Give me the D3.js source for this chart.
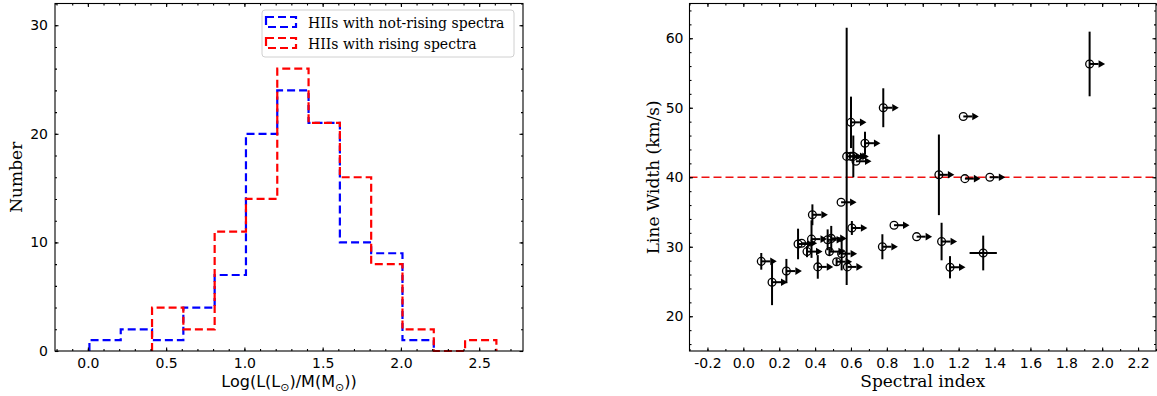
<!DOCTYPE html>
<html lang="en">
<head>
<meta charset="UTF-8">
<title>HII regions: L/M histogram and line width vs spectral index</title>
<script src="https://d3js.org/d3.v7.min.js"></script>
<style>
  body { margin: 0; background: #fff; }
  .tick text { font-family: "DejaVu Sans", sans-serif; font-size: 14px; fill: #000; }
  .tick line { stroke: #000; stroke-width: 1.1; }
  .label { font-family: "DejaVu Serif", serif; font-size: 17px; fill: #000; }
</style>
</head>
<body>
<svg id="chart" width="1157" height="396"></svg>
<script>
  // ---- left panel: histogram of Log(L/M) ----
  const binEdges = [0.01, 0.21, 0.41, 0.61, 0.81, 1.01, 1.21, 1.41, 1.61, 1.81, 2.01, 2.21, 2.41, 2.61];
  const notRisingCounts = [1, 2, 1, 4, 7, 20, 24, 21, 10, 9, 1, 0, 0];
  const risingCounts = [0, 0, 4, 2, 11, 14, 26, 21, 16, 8, 2, 0, 1];
  const histXTicks = [0, 0.5, 1.0, 1.5, 2.0, 2.5];
  const histYTicks = [0, 10, 20, 30];
  const legendLabels = ["HIIs with not-rising spectra", "HIIs with rising spectra"];

  // ---- right panel: line width vs spectral index ----
  const specIndex = [0.10, 0.16, 0.24, 0.305, 0.325, 0.355, 0.38, 0.385, 0.415, 0.47, 0.49, 0.48,
                     0.52, 0.548, 0.545, 0.58, 0.605, 0.576, 0.60, 0.613, 0.628, 0.60, 0.678, 0.78,
                     0.775, 0.84, 0.966, 1.09, 1.105, 1.152, 1.226, 1.235, 1.374, 1.337, 1.93];
  const lineWidth = [27.9, 24.9, 26.5, 30.4, 30.5, 29.3, 31.1, 34.6, 27.1, 31.0, 31.2, 29.3,
                     27.85, 29.0, 36.4, 27.1, 32.7, 43.0, 43.0, 43.0, 42.3, 47.9, 44.9, 50.0,
                     30.0, 33.1, 31.45, 40.35, 30.75, 27.05, 48.75, 39.8, 40.0, 29.1, 56.3];
  const lineWidthErr = [1.2, 3.3, 1.75, 2.2, 0, 0.8, 2.7, 1.5, 1.7, 1.5, 1.8, 0.5,
                        0.5, 2.4, 0, 0, 1.0, 18.5, 0, 3.0, 0, 3.7, 1.65, 2.8,
                        1.8, 0, 0, 5.8, 2.7, 1.6, 0, 0, 0, 2.5, 4.65];
  const specIndexErr = [0, 0, 0, 0, 0, 0, 0, 0, 0, 0, 0, 0,
                        0, 0, 0, 0, 0, 0, 0, 0, 0, 0, 0, 0,
                        0, 0, 0, 0, 0, 0, 0, 0, 0, 0.076, 0];
  const lowerLimit = [1, 1, 1, 1, 1, 1, 1, 1, 1, 1, 1, 1,
                      1, 1, 1, 1, 1, 1, 1, 1, 1, 1, 1, 1,
                      1, 1, 1, 1, 1, 1, 1, 1, 1, 0, 1];
  const lineWidthLimit = 40;
  const specXTicks = [-0.2, 0.0, 0.2, 0.4, 0.6, 0.8, 1.0, 1.2, 1.4, 1.6, 1.8, 2.0, 2.2];
  const specYTicks = [20, 30, 40, 50, 60];

  const svg = d3.select("#chart");
  const fmt1 = d => d.toFixed(1);
  const fmt0 = d => String(d);

  function frameAxes(g, x, y, xMajor, xMinor, yMajor, yMinor, xFmt, yFmt, yPad) {
    const [x0, x1] = x.range();
    const [y0, y1] = y.range();
    const major = 3.5, minor = 2;
    g.append("g").attr("transform", `translate(0,${y0})`)
      .call(d3.axisBottom(x).tickValues(xMinor).tickFormat("").tickSizeInner(-minor).tickSizeOuter(0));
    g.append("g").attr("transform", `translate(0,${y0})`)
      .call(d3.axisBottom(x).tickValues(xMajor).tickFormat(xFmt).tickSizeInner(-major).tickSizeOuter(0).tickPadding(7));
    g.append("g").attr("transform", `translate(0,${y1})`)
      .call(d3.axisTop(x).tickValues(xMinor).tickFormat("").tickSizeInner(-minor).tickSizeOuter(0));
    g.append("g").attr("transform", `translate(0,${y1})`)
      .call(d3.axisTop(x).tickValues(xMajor).tickFormat("").tickSizeInner(-major).tickSizeOuter(0));
    g.append("g").attr("transform", `translate(${x0},0)`)
      .call(d3.axisLeft(y).tickValues(yMinor).tickFormat("").tickSizeInner(-minor).tickSizeOuter(0));
    g.append("g").attr("transform", `translate(${x0},0)`)
      .call(d3.axisLeft(y).tickValues(yMajor).tickFormat(yFmt).tickSizeInner(-major).tickSizeOuter(0).tickPadding(yPad));
    g.append("g").attr("transform", `translate(${x1},0)`)
      .call(d3.axisRight(y).tickValues(yMinor).tickFormat("").tickSizeInner(-minor).tickSizeOuter(0));
    g.append("g").attr("transform", `translate(${x1},0)`)
      .call(d3.axisRight(y).tickValues(yMajor).tickFormat("").tickSizeInner(-major).tickSizeOuter(0));
    g.selectAll(".domain").remove();
    g.append("rect")
      .attr("x", x0).attr("y", y1)
      .attr("width", x1 - x0).attr("height", y0 - y1)
      .attr("fill", "none").attr("stroke", "#000").attr("stroke-width", 1.1);
  }

  // ================= left panel =================
  const xL = d3.scaleLinear().domain([-0.21, 2.78]).range([55, 523]);
  const yL = d3.scaleLinear().domain([0, 32]).range([351, 3.5]);
  const gL = svg.append("g");

  // outline of the bars, leaving out empty bins at either end
  function stepPoints(counts) {
    let a = 0, b = counts.length - 1;
    while (a < b && counts[a] === 0) a++;
    while (b > a && counts[b] === 0) b--;
    const pts = [[binEdges[a], 0]];
    for (let i = a; i <= b; i++) { pts.push([binEdges[i], counts[i]]); pts.push([binEdges[i + 1], counts[i]]); }
    pts.push([binEdges[b + 1], 0]);
    return pts;
  }
  const stepLine = d3.line().x(d => xL(d[0])).y(d => yL(d[1]));
  const histSeries = [
    { counts: notRisingCounts, color: "#0000ff" },
    { counts: risingCounts, color: "#ff0000" }
  ];
  gL.selectAll("path.hist").data(histSeries).enter().append("path")
    .attr("class", "hist")
    .attr("d", d => stepLine(stepPoints(d.counts)))
    .attr("fill", "none")
    .attr("stroke", d => d.color)
    .attr("stroke-width", 2.2)
    .attr("stroke-dasharray", "8,4");

  frameAxes(gL, xL, yL, histXTicks, d3.range(-0.2, 2.75, 0.1), histYTicks, d3.range(0, 32.1, 2), fmt1, fmt0, 7);

  // legend
  const leg = gL.append("g").attr("transform", "translate(262,10)");
  leg.append("rect").attr("width", 252).attr("height", 47).attr("rx", 3)
    .attr("fill", "#fff").attr("fill-opacity", 0.8).attr("stroke", "#d0d0d0").attr("stroke-width", 1);
  legendLabels.forEach((t, i) => {
    const row = leg.append("g").attr("transform", `translate(0,${6.5 + i * 21})`);
    row.append("rect").attr("x", 4).attr("y", 0.5).attr("width", 30).attr("height", 10)
      .attr("fill", "none").attr("stroke", histSeries[i].color)
      .attr("stroke-width", 2.2).attr("stroke-dasharray", "8,4");
    row.append("text").attr("x", 46).attr("y", 11)
      .attr("class", "label").style("font-size", "14px").text(t);
  });

  // axis labels
  gL.append("text").attr("class", "label")
    .attr("transform", `translate(22,${(351 + 3.5) / 2}) rotate(-90)`)
    .attr("text-anchor", "middle").text("Number");
  const xLab = gL.append("text")
    .attr("x", (55 + 523) / 2).attr("y", 387)
    .attr("text-anchor", "middle")
    .style("font-family", "'DejaVu Sans', sans-serif").style("font-size", "16px");
  xLab.append("tspan").text("Log(L(L");
  xLab.append("tspan").attr("dy", 4).style("font-size", "11px").text("⊙");
  xLab.append("tspan").attr("dy", -4).text(")/M(M");
  xLab.append("tspan").attr("dy", 4).style("font-size", "11px").text("⊙");
  xLab.append("tspan").attr("dy", -4).text("))");

  // ================= right panel =================
  const xR = d3.scaleLinear().domain([-0.3, 2.3]).range([689.5, 1156]);
  const yR = d3.scaleLinear().domain([15, 65]).range([351, 3.5]);
  const gR = svg.append("g");

  gR.append("line")
    .attr("x1", xR.range()[0]).attr("x2", xR.range()[1])
    .attr("y1", yR(lineWidthLimit)).attr("y2", yR(lineWidthLimit))
    .attr("stroke", "#ee1111").attr("stroke-width", 1.3).attr("stroke-dasharray", "8,4");

  const pts = specIndex.map((x, i) => ({
    x, y: lineWidth[i], ey: lineWidthErr[i], ex: specIndexErr[i], lim: lowerLimit[i]
  }));
  const arrowLen = 0.05;

  const pg = gR.selectAll("g.pt").data(pts).enter().append("g").attr("class", "pt");
  pg.filter(d => d.ey > 0).append("line")
    .attr("x1", d => xR(d.x)).attr("x2", d => xR(d.x))
    .attr("y1", d => yR(d.y - d.ey)).attr("y2", d => yR(d.y + d.ey))
    .attr("stroke", "#000").attr("stroke-width", 2);
  pg.filter(d => d.ex > 0).append("line")
    .attr("x1", d => xR(d.x - d.ex)).attr("x2", d => xR(d.x + d.ex))
    .attr("y1", d => yR(d.y)).attr("y2", d => yR(d.y))
    .attr("stroke", "#000").attr("stroke-width", 2);
  const lim = pg.filter(d => d.lim);
  lim.append("line")
    .attr("x1", d => xR(d.x)).attr("x2", d => xR(d.x + arrowLen))
    .attr("y1", d => yR(d.y)).attr("y2", d => yR(d.y))
    .attr("stroke", "#000").attr("stroke-width", 2);
  lim.append("path")
    .attr("d", d => {
      const bx = xR(d.x + arrowLen), cy = yR(d.y);
      return `M${bx},${cy - 3.8}L${bx + 6.5},${cy}L${bx},${cy + 3.8}Z`;
    })
    .attr("fill", "#000");
  pg.append("circle")
    .attr("cx", d => xR(d.x)).attr("cy", d => yR(d.y)).attr("r", 3.9)
    .attr("fill", "none").attr("stroke", "#000").attr("stroke-width", 1.3);

  const fmtSpec = d => (d < 0 ? "-" : "") + Math.abs(d).toFixed(1);
  frameAxes(gR, xR, yR, specXTicks, d3.range(-0.3, 2.31, 0.1), specYTicks, d3.range(16, 65, 2), fmtSpec, fmt0, 6);

  gR.append("text").attr("class", "label")
    .attr("transform", `translate(659,${(351 + 3.5) / 2}) rotate(-90)`)
    .attr("text-anchor", "middle").text("Line Width (km/s)");
  gR.append("text").attr("class", "label")
    .attr("x", (689.5 + 1156) / 2).attr("y", 387)
    .attr("text-anchor", "middle").text("Spectral index");
</script>
</body>
</html>
